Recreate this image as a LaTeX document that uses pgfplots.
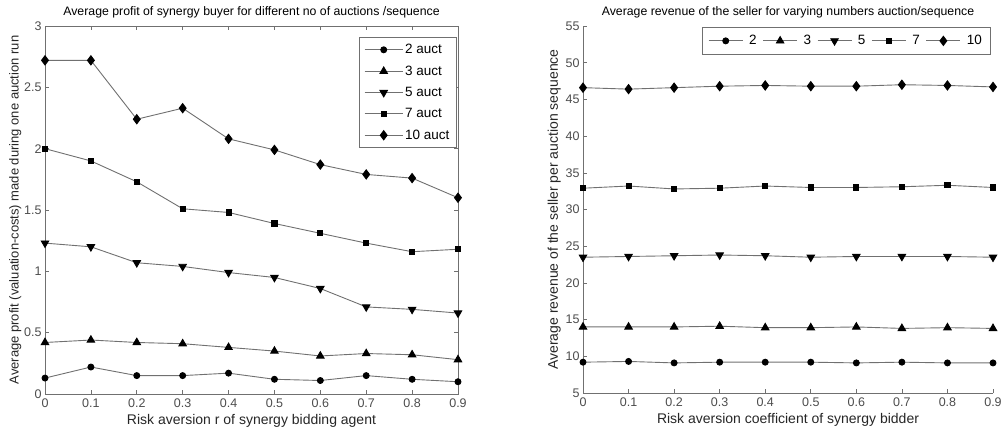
\documentclass[border=0pt]{standalone}
\usepackage{fontspec}
\setmainfont{Liberation Sans}
\usepackage{pgfplots}
\usepackage{pgfplotstable}
\pgfplotsset{compat=1.18}
\definecolor{lgray}{HTML}{707070}
\pgfplotstableread{
r    a2   a3   a5   a7   a10
0.0  0.13 0.42 1.23 2.00 2.72
0.1  0.22 0.44 1.20 1.90 2.72
0.2  0.15 0.42 1.07 1.73 2.24
0.3  0.15 0.41 1.04 1.51 2.33
0.4  0.17 0.38 0.99 1.48 2.08
0.5  0.12 0.35 0.95 1.39 1.99
0.6  0.11 0.31 0.86 1.31 1.87
0.7  0.15 0.33 0.71 1.23 1.79
0.8  0.12 0.32 0.69 1.16 1.76
0.9  0.10 0.28 0.66 1.18 1.60
}\profit
\pgfplotstableread{
r    a2   a3   a5   a7   a10
0.0  9.2  14.0 23.5 32.9 46.6
0.1  9.3  14.0 23.6 33.2 46.4
0.2  9.1  14.0 23.7 32.8 46.6
0.3  9.2  14.1 23.8 32.9 46.8
0.4  9.2  13.9 23.7 33.2 46.9
0.5  9.2  13.9 23.5 33.0 46.8
0.6  9.1  14.0 23.6 33.0 46.8
0.7  9.2  13.8 23.6 33.1 47.0
0.8  9.1  13.9 23.6 33.3 46.9
0.9  9.1  13.8 23.5 33.0 46.7
}\revenue
\pgfplotsset{
  common/.style={
    scale only axis,
    anchor=south west,
    xmin=0, xmax=0.9,
    xtick={0,0.1,...,0.9},
    xticklabels={0,0.1,0.2,0.3,0.4,0.5,0.6,0.7,0.8,0.9},
    tick align=inside,
    major tick length=4pt,
    axis line style={lgray, line width=0.8pt},
    tick style={lgray, line width=0.6pt},
    /pgf/number format/assume math mode=true,
    tick label style={font=\fontsize{12.5}{14}\selectfont, text=black!70},
    xticklabel style={yshift=-1pt},
    label style={font=\fontsize{14}{16}\selectfont, text=black!85},
    title style={font=\fontsize{12.3}{14}\selectfont, yshift=-2pt},
    legend style={font=\fontsize{13.5}{15}\selectfont, draw=lgray, line width=0.6pt},
    legend cell align=left,
    every axis plot/.append style={lgray, line width=0.9pt},
    mk/.style={mark options={fill=black, draw=black, solid, ##1}},
  },
}
\begin{document}
\begin{tikzpicture}
\path[use as bounding box] (0pt,0pt) rectangle (1004pt,432pt);
\begin{axis}[common,
  at={(45pt,38pt)}, width=413pt, height=368pt,
  ymin=0, ymax=3, ytick={0,0.5,1,1.5,2,2.5,3},
  yticklabels={0,0.5,1,1.5,2,2.5,3},
  title={Average profit of synergy buyer for different no of auctions /sequence},
  xlabel={Risk aversion r of synergy bidding agent},
  ylabel={Average profit (valuation-costs) made during one auction run},
  xlabel style={yshift=0pt},
  ylabel style={font=\fontsize{13}{15}\selectfont, yshift=-4pt},
  legend style={at={(0.997,0.97)}, anchor=north east, row sep=6.5pt, inner sep=5pt},
  legend image code/.code={\draw[mark repeat=2,mark phase=2] plot coordinates {(0pt,0pt)(19pt,0pt)(38pt,0pt)};},
]
\addplot[mark=*, mark size=3pt, mk={}] table[x=r,y=a2]{\profit};
\addlegendentry{2 auct}
\addplot[mark=triangle*, mark size=4.3pt, mk={}] table[x=r,y=a3]{\profit};
\addlegendentry{3 auct}
\addplot[mark=triangle*, mark size=4.3pt, mk={rotate=180}] table[x=r,y=a5]{\profit};
\addlegendentry{5 auct}
\addplot[mark=square*, mark size=2.6pt, mk={}] table[x=r,y=a7]{\profit};
\addlegendentry{7 auct}
\addplot[mark=diamond*, mark size=4.6pt, mk={}] table[x=r,y=a10]{\profit};
\addlegendentry{10 auct}
\end{axis}
\begin{axis}[common,
  at={(583pt,39pt)}, width=410pt, height=367pt,
  axis x line*=bottom, axis y line*=left,
  ymin=5, ymax=55, ytick={5,10,...,55},
  yticklabels={5,10,15,20,25,30,35,40,45,50,55},
  title={Average revenue of the seller for varying numbers auction/sequence},
  xlabel={Risk aversion coefficient of synergy bidder},
  ylabel={Average revenue of the seller per auction sequence},
  xlabel style={yshift=0pt},
  ylabel style={yshift=-2pt},
  legend columns=5,
  legend style={at={(0.993,0.997)}, anchor=north east, column sep=4pt, inner sep=6pt},
  legend image code/.code={\draw[mark repeat=2,mark phase=2] plot coordinates {(0pt,0pt)(17pt,0pt)(34pt,0pt)};},
]
\addplot[mark=*, mark size=3pt, mk={}] table[x=r,y=a2]{\revenue};
\addlegendentry{2}
\addplot[mark=triangle*, mark size=4.3pt, mk={}] table[x=r,y=a3]{\revenue};
\addlegendentry{3}
\addplot[mark=triangle*, mark size=4.3pt, mk={rotate=180}] table[x=r,y=a5]{\revenue};
\addlegendentry{5}
\addplot[mark=square*, mark size=2.6pt, mk={}] table[x=r,y=a7]{\revenue};
\addlegendentry{7}
\addplot[mark=diamond*, mark size=4.6pt, mk={}] table[x=r,y=a10]{\revenue};
\addlegendentry{10}
\end{axis}
\end{tikzpicture}
\end{document}
